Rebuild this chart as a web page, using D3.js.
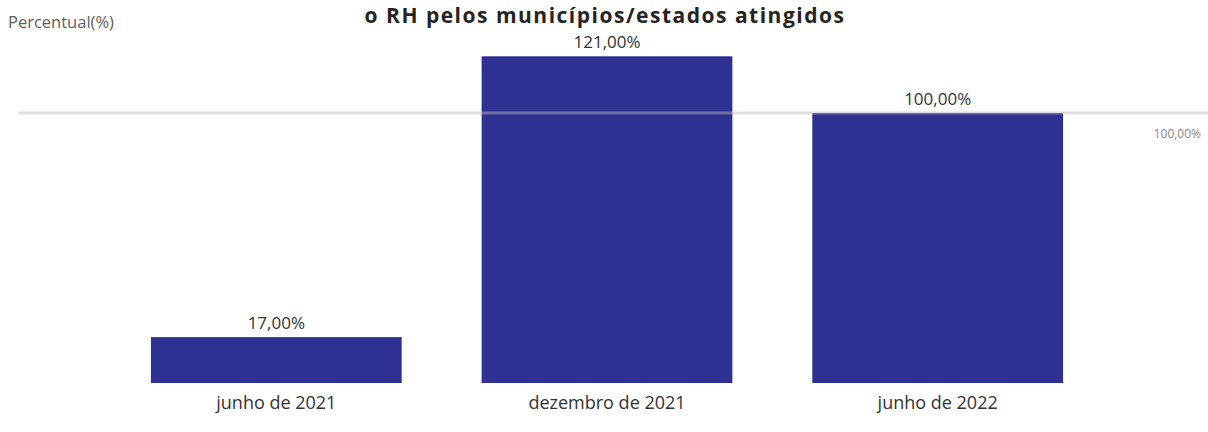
<!DOCTYPE html>
<html><head><meta charset="utf-8">
<script src="https://cdn.jsdelivr.net/npm/d3@7"></script>
<style>body{margin:0;background:#fff}svg{display:block}</style>
</head><body><svg id="c" width="1208" height="432"></svg>
<script>
const categories = ["junho de 2021", "dezembro de 2021", "junho de 2022"];
const values = [17, 121, 100];
const refValue = 100;
const title = "o RH pelos municípios/estados atingidos";
const yLabel = "Percentual(%)";

const fmt = v => d3.format(".2f")(v).replace(".", ",") + "%";
const svg = d3.select("#c");
const font = "'Open Sans', 'Noto Sans', sans-serif";

const x = d3.scaleBand().domain(categories).range([111, 1103]).paddingInner(0.2417).paddingOuter(0.1208);
const y = d3.scaleLinear().domain([0, 100]).range([383, 113]);

svg.append("text").attr("x", 605).attr("y", 22.5).attr("text-anchor", "middle")
  .attr("font-family", font).attr("font-weight", "bold").attr("font-size", 21).attr("letter-spacing", 1.5)
  .attr("fill", "#252423").text(title);

svg.append("text").attr("x", 8).attr("y", 28).attr("font-family", font).attr("font-size", 16.5).attr("fill", "#605e5c").text(yLabel);

svg.selectAll("rect.bar").data(values).join("rect").attr("class", "bar")
  .attr("x", (d, i) => x(categories[i])).attr("width", x.bandwidth())
  .attr("y", d => y(d)).attr("height", d => y(0) - y(d)).attr("fill", "#2f3192");

svg.append("line").attr("x1", 19).attr("x2", 1208).attr("y1", y(refValue)).attr("y2", y(refValue))
  .attr("stroke", "#b6b6b6").attr("stroke-width", 3).attr("stroke-opacity", 0.47);

svg.append("text").attr("x", 1201).attr("y", y(refValue) + 25).attr("text-anchor", "end")
  .attr("font-family", font).attr("font-size", 12).attr("fill", "#8a8886").text(fmt(refValue));

svg.selectAll("text.val").data(values).join("text").attr("class", "val")
  .attr("x", (d, i) => x(categories[i]) + x.bandwidth() / 2).attr("y", d => y(d) - 8)
  .attr("text-anchor", "middle").attr("font-family", font).attr("font-size", 17).attr("fill", "#333")
  .text(d => fmt(d));

const xAxis = svg.append("g").attr("transform", `translate(0,${y(0)})`)
  .call(d3.axisBottom(x).tickSize(0).tickPadding(10));
xAxis.select(".domain").remove();
xAxis.selectAll("text").attr("font-family", font).attr("font-size", 18).attr("fill", "#333").attr("dy", "0.9em");
</script></body></html>
